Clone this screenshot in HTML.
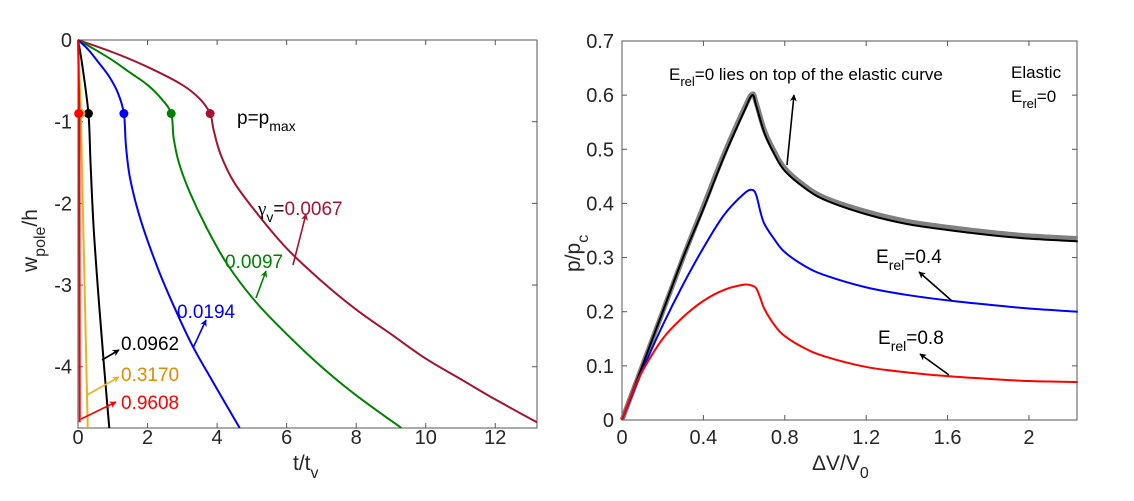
<!DOCTYPE html>
<html><head><meta charset="utf-8"><style>
html,body{margin:0;padding:0;background:#fff}
svg{display:block;font-family:"Liberation Sans",Arial,sans-serif}
</style></head><body>
<svg id="chart" width="1134" height="501" viewBox="0 0 1134 501" xmlns="http://www.w3.org/2000/svg">
<defs>
<marker id="ah" viewBox="0 0 10 10" refX="9" refY="5" markerWidth="7" markerHeight="7" orient="auto-start-reverse" markerUnits="userSpaceOnUse"><path d="M0,0 L10,5 L0,10 L3,5 z" fill="context-stroke"/></marker>
</defs>
<g id="left"></g>
<g id="right"></g>
</svg>
<script>
// ---- Left chart data ----
const leftXTicks = [0,2,4,6,8,10,12];
const leftYTicks = [0,-1,-2,-3,-4];
const gamma067T = [0,1,2,3,3.5,3.8,3.9,4.1,4.5,5.2,6,7,8,9,10,11,12,13.2];
const gamma067W = [0,-0.15,-0.33,-0.55,-0.72,-0.9,-1.1,-1.4,-1.75,-2.15,-2.55,-2.95,-3.3,-3.6,-3.9,-4.15,-4.4,-4.68];
const gamma097T = [0,0.5,1,1.5,2,2.4,2.68,2.75,2.9,3.2,3.7,4.3,5.1,6,7,8,9.3];
const gamma097W = [0,-0.12,-0.25,-0.4,-0.55,-0.72,-0.9,-1.2,-1.5,-1.85,-2.3,-2.75,-3.2,-3.6,-4.0,-4.35,-4.75];
const gamma194T = [0,0.3,0.6,0.9,1.15,1.32,1.38,1.5,1.8,2.3,2.8,3.3,3.9,4.65];
const gamma194W = [0,-0.12,-0.28,-0.45,-0.65,-0.9,-1.3,-1.7,-2.2,-2.8,-3.3,-3.75,-4.2,-4.75];
const gamma962T = [0,0.12,0.3,0.36,0.45,0.6,0.75,0.9];
const gamma962W = [0,-0.3,-0.9,-1.5,-2.3,-3.2,-4.0,-4.75];
const gamma3170T = [0,0.08,0.28];
const gamma3170W = [0,-0.9,-4.75];
const gamma9608T = [0,0.04,0.05];
const gamma9608W = [0,-0.9,-4.68];
const peakT = [3.8,2.68,1.32,0.3,0.08,0.02];
const peakW = -0.9;
// ---- Right chart data ----
const rightXTicks = [0,0.4,0.8,1.2,1.6,2];
const rightYTicks = [0,0.1,0.2,0.3,0.4,0.5,0.6,0.7];
const dvElastic = [0,0.1,0.2,0.3,0.4,0.5,0.6,0.64,0.66,0.7,0.75,0.8,0.9,1.0,1.2,1.4,1.6,1.8,2.0,2.24];
const pElastic = [0,0.1,0.2,0.3,0.395,0.49,0.575,0.602,0.585,0.535,0.495,0.465,0.432,0.41,0.385,0.367,0.356,0.347,0.34,0.335];
const pErel0 = [0,0.1,0.2,0.3,0.39,0.485,0.57,0.6,0.58,0.53,0.49,0.46,0.428,0.406,0.38,0.362,0.351,0.342,0.335,0.33];
const dvCurve = [0,0.05,0.1,0.2,0.3,0.4,0.5,0.6,0.64,0.66,0.68,0.7,0.75,0.8,0.9,1.0,1.2,1.4,1.6,1.8,2.0,2.24];
const pErel04 = [0,0.047,0.092,0.175,0.25,0.318,0.378,0.418,0.425,0.415,0.385,0.362,0.333,0.31,0.284,0.267,0.245,0.231,0.221,0.213,0.206,0.2];
const pErel08 = [0,0.05,0.09,0.15,0.19,0.22,0.24,0.25,0.248,0.243,0.225,0.205,0.175,0.155,0.132,0.117,0.098,0.088,0.081,0.076,0.072,0.07];

const NS = "http://www.w3.org/2000/svg";
function mk(parent, tag, attrs, text){
  const e = document.createElementNS(NS, tag);
  for (const k in attrs) e.setAttribute(k, attrs[k]);
  if (text !== undefined) e.textContent = text;
  parent.appendChild(e); return e;
}
function smooth(pts){
  let d = "M"+pts[0][0]+","+pts[0][1];
  for (let i=0;i<pts.length-1;i++){
    const p0=pts[Math.max(0,i-1)],p1=pts[i],p2=pts[i+1],p3=pts[Math.min(pts.length-1,i+2)];
    const c1=[p1[0]+(p2[0]-p0[0])/6,p1[1]+(p2[1]-p0[1])/6];
    const c2=[p2[0]-(p3[0]-p1[0])/6,p2[1]-(p3[1]-p1[1])/6];
    d+=" C"+c1[0]+","+c1[1]+" "+c2[0]+","+c2[1]+" "+p2[0]+","+p2[1];
  }
  return d;
}
const TXT = "#262626";

// ===== LEFT =====
const L = document.getElementById("left");
const LT=40, LB=428;
const lx = v => 78 + v*(537-78)/13.2;
const ly = v => LT + (-v)*(LB-LT)/4.75;
mk(L,"rect",{x:78,y:LT,width:459,height:LB-LT,fill:"none",stroke:"#555","stroke-width":1});
leftXTicks.forEach(t=>{
  const x=lx(t);
  const tk=mk(L,"line",{x1:x,x2:x,y1:LB,y2:LB-5,stroke:"#555"});
  
  
  mk(L,"line",{x1:x,x2:x,y1:LT,y2:LT+5,stroke:"#555"});
  const lb=mk(L,"text",{x:x,y:444,"text-anchor":"middle","font-size":20,fill:TXT},String(t));
  
  
});
leftYTicks.forEach(t=>{
  const y=ly(t);
  mk(L,"line",{x1:78,x2:83,y1:y,y2:y,stroke:"#555"});
  mk(L,"line",{x1:537,x2:532,y1:y,y2:y,stroke:"#555"});
  const lb=mk(L,"text",{x:72,y:y+7,"text-anchor":"end","font-size":20,fill:TXT},String(t));
  
  
});
const lseries=[[gamma067T,gamma067W,"#a2142f"],[gamma097T,gamma097W,"#008000"],[gamma194T,gamma194W,"#0000ff"],[gamma962T,gamma962W,"#000000"],[gamma3170T,gamma3170W,"#edb120"],[gamma9608T,gamma9608W,"#ff0000"]];
lseries.forEach((s,i)=>{
  const pts=s[0].map((t,j)=>[lx(t),ly(s[1][j])]);
  const p=mk(L,"path",{d:s[0].length>3?smooth(pts):"M"+pts.map(q=>q.join(",")).join(" L"),fill:"none",stroke:s[2],"stroke-width":2});
  
  
});
peakT.forEach((t,i)=>{
  const c=mk(L,"circle",{cx:lx(t),cy:ly(peakW),r:4.5,fill:lseries[i][2]});
  
  
});
function arrow(g,x1,y1,x2,y2,col){
  const a=mk(g,"line",{x1,y1,x2,y2,stroke:col,"stroke-width":1.6,"marker-end":"url(#ah)"});
  
  
}
arrow(L,293,265,306,214,"#a2142f");
arrow(L,256,298,266,271,"#008000");
arrow(L,193,348,206,320,"#0000ff");
arrow(L,102,360,119,350,"#000");
arrow(L,87,395,119,377,"#edb120");
arrow(L,81,419,116,402,"#ff0000");
L.insertAdjacentHTML("beforeend",`
<text x="237" y="124" font-size="19" fill="#000">p=p<tspan font-size="14" dy="7">max</tspan></text>
<text x="258" y="215" font-size="19"><tspan fill="#000" font-family="Liberation Serif">γ</tspan><tspan fill="#000" font-size="14" dy="7">v</tspan><tspan fill="#000" dy="-7">=</tspan><tspan fill="#a2142f">0.0067</tspan></text>
<text x="225" y="268" font-size="19" fill="#008000">0.0097</text>
<text x="177" y="318" font-size="19" fill="#0000ff">0.0194</text>
<text x="121" y="350" font-size="19" fill="#000">0.0962</text>
<text x="121" y="381" font-size="19" fill="#e08a00">0.3170</text>
<text x="121" y="409" font-size="19" fill="#ff0000">0.9608</text>
<text x="293" y="470" font-size="21" fill="${TXT}">t/t<tspan font-size="16" dy="8">v</tspan></text>
<text transform="translate(37,272) rotate(-90)" font-size="21" fill="${TXT}">w<tspan font-size="16" dy="8">pole</tspan><tspan dy="-8">/h</tspan></text>
`);

// ===== RIGHT =====
const R = document.getElementById("right");
const RT=41, RB=420;
const rx = v => 622 + v*(1077-622)/2.236;
const ry = v => RB - v*(RB-RT)/0.7;
mk(R,"rect",{x:622,y:RT,width:455,height:RB-RT,fill:"none",stroke:"#555","stroke-width":1});
rightXTicks.forEach(t=>{
  const x=rx(t);
  mk(R,"line",{x1:x,x2:x,y1:RB,y2:RB-5,stroke:"#555"});
  mk(R,"line",{x1:x,x2:x,y1:RT,y2:RT+5,stroke:"#555"});
  const lb=mk(R,"text",{x:x,y:444,"text-anchor":"middle","font-size":20,fill:TXT},String(t));
  
  
});
rightYTicks.forEach(t=>{
  const y=ry(t);
  mk(R,"line",{x1:622,x2:627,y1:y,y2:y,stroke:"#555"});
  mk(R,"line",{x1:1077,x2:1072,y1:y,y2:y,stroke:"#555"});
  const lb=mk(R,"text",{x:614,y:y+7,"text-anchor":"end","font-size":20,fill:TXT},String(t));
  
  
});
const rseries=[[dvElastic,pElastic,"#808080",5],[dvElastic,pErel0,"#000",2],[dvCurve,pErel04,"#0000ff",2],[dvCurve,pErel08,"#ff0000",2]];
rseries.forEach(s=>{
  const pts=s[0].map((t,j)=>[rx(t),ry(s[1][j])]);
  const p=mk(R,"path",{d:smooth(pts),fill:"none",stroke:s[2],"stroke-width":s[3]});
  
  
});
arrow(R,787,165,794,95,"#000");
arrow(R,952,301,919,272,"#000");
arrow(R,949,375,920,354,"#000");
R.insertAdjacentHTML("beforeend",`
<text x="669" y="80" font-size="17" fill="#000">E<tspan font-size="13" dy="6">rel</tspan><tspan dy="-6">=0 lies on top of the elastic curve</tspan></text>
<text x="1011" y="78" font-size="17" fill="#000">Elastic</text>
<text x="1011" y="102" font-size="17" fill="#000">E<tspan font-size="13" dy="6">rel</tspan><tspan dy="-6">=0</tspan></text>
<text x="876" y="263" font-size="19" fill="#000">E<tspan font-size="14" dy="7">rel</tspan><tspan dy="-7">=0.4</tspan></text>
<text x="878" y="344" font-size="19" fill="#000">E<tspan font-size="14" dy="7">rel</tspan><tspan dy="-7">=0.8</tspan></text>
<text x="812" y="470" font-size="21" fill="${TXT}">ΔV/V<tspan font-size="16" dy="8">0</tspan></text>
<text transform="translate(580,272) rotate(-90)" font-size="21" fill="${TXT}">p/p<tspan font-size="16" dy="8">c</tspan></text>
`);
</script>
</body></html>
